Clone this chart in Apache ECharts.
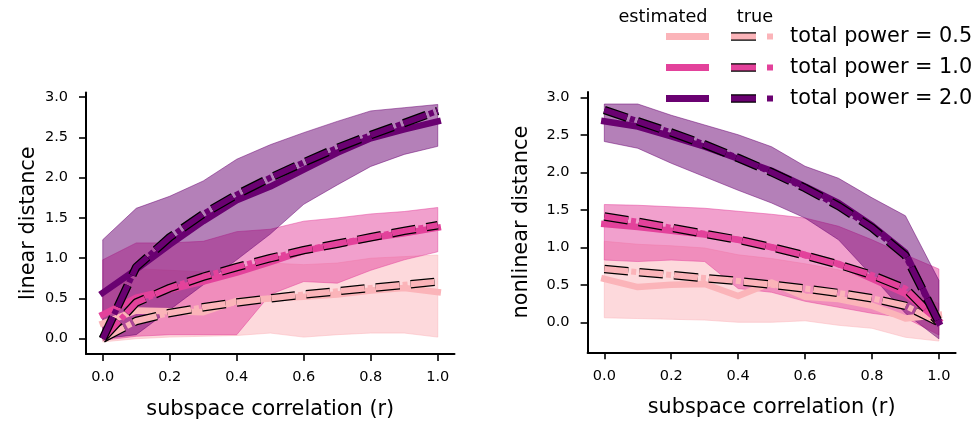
<!DOCTYPE html>
<html>
<head>
<meta charset="utf-8">
<script src="https://cdn.jsdelivr.net/npm/echarts@6/dist/echarts.min.js"></script>
<style>
  html, body { margin: 0; padding: 0; background: #fff; }
  #chart { width: 979px; height: 425px; }
</style>
</head>
<body>
<div id="chart"></div>
<script>
// subspace correlation on x, distances
const corr = [0.0, 0.1, 0.2, 0.3, 0.4, 0.5, 0.6, 0.7, 0.8, 0.9, 1.0];
const xTicks = [0, 0.2, 0.4, 0.6, 0.8, 1.0];
const yTicks = [0, 0.5, 1.0, 1.5, 2.0, 2.5, 3.0];
const powerLabels = ['total power = 0.5', 'total power = 1.0', 'total power = 2.0'];
const colors = ['#fbb4b9', '#e3429b', '#6a0171'];

// left panel: linear distance
const linEst05 = [0.19, 0.35, 0.34, 0.33, 0.47, 0.50, 0.52, 0.55, 0.60, 0.63, 0.58];
const linEst10 = [0.30, 0.51, 0.61, 0.71, 0.82, 0.95, 1.09, 1.17, 1.25, 1.31, 1.38];
const linEst20 = [0.57, 0.86, 1.17, 1.46, 1.72, 1.89, 2.10, 2.31, 2.49, 2.60, 2.70];
const linTrue05 = [0.0, 0.22, 0.32, 0.39, 0.45, 0.50, 0.55, 0.59, 0.63, 0.67, 0.71];
const linTrue10 = [0.0, 0.45, 0.63, 0.77, 0.89, 1.00, 1.10, 1.18, 1.26, 1.34, 1.41];
const linTrue20 = [0.0, 0.89, 1.26, 1.55, 1.79, 2.00, 2.19, 2.37, 2.53, 2.68, 2.83];
const linLo05 = [-0.04, 0.0, 0.02, 0.03, 0.04, 0.07, 0.02, 0.05, 0.07, 0.07, 0.02];
const linHi05 = [0.60, 0.87, 0.85, 0.83, 0.88, 0.94, 0.92, 0.94, 1.00, 1.02, 1.04];
const linLo10 = [-0.02, 0.03, 0.05, 0.05, 0.05, 0.55, 0.71, 0.69, 0.85, 0.98, 1.08];
const linHi10 = [0.98, 1.19, 1.19, 1.21, 1.33, 1.36, 1.46, 1.50, 1.55, 1.58, 1.63];
const linLo20 = [0.0, 0.05, 0.36, 0.67, 0.98, 1.30, 1.67, 1.91, 2.14, 2.29, 2.39];
const linHi20 = [1.23, 1.62, 1.77, 1.96, 2.23, 2.41, 2.56, 2.70, 2.83, 2.87, 2.91];

// right panel: nonlinear distance
const nonEst05 = [0.58, 0.47, 0.50, 0.51, 0.35, 0.53, 0.34, 0.31, 0.22, 0.05, 0.10];
const nonEst10 = [1.31, 1.27, 1.22, 1.17, 1.10, 1.00, 0.90, 0.78, 0.58, 0.38, 0.02];
const nonEst20 = [2.68, 2.61, 2.48, 2.34, 2.18, 2.02, 1.81, 1.59, 1.29, 0.93, 0.0];
const nonTrue05 = [0.71, 0.67, 0.63, 0.59, 0.55, 0.50, 0.45, 0.39, 0.32, 0.22, 0.0];
const nonTrue10 = [1.41, 1.34, 1.26, 1.18, 1.10, 1.00, 0.89, 0.77, 0.63, 0.45, 0.0];
const nonTrue20 = [2.83, 2.68, 2.53, 2.37, 2.19, 2.00, 1.79, 1.55, 1.26, 0.89, 0.0];
const nonLo05 = [0.06, 0.05, 0.04, 0.03, 0.0, 0.0, 0.02, -0.04, -0.08, -0.20, -0.25];
const nonHi05 = [1.08, 1.04, 1.02, 0.99, 0.90, 0.85, 0.78, 0.70, 0.55, 0.40, 0.25];
const nonLo10 = [0.83, 0.81, 0.83, 0.81, 0.45, 0.40, 0.28, 0.20, 0.12, 0.06, -0.17];
const nonHi10 = [1.57, 1.56, 1.54, 1.52, 1.48, 1.44, 1.39, 1.28, 1.10, 0.90, 0.71];
const nonLo20 = [2.41, 2.32, 2.12, 1.94, 1.76, 1.59, 1.39, 1.10, 0.62, 0.12, -0.22];
const nonHi20 = [2.91, 2.91, 2.76, 2.63, 2.50, 2.34, 2.08, 1.92, 1.66, 1.42, 0.56];

const FONT = 'DejaVu Sans';

function pairs(ys) {
  return corr.map((x, i) => [x, ys[i]]);
}

// shaded spread, drawn as one polygon through the axis scales
function band(g, lo, hi, color) {
  return {
    type: 'custom', xAxisIndex: g, yAxisIndex: g, silent: true, z: 1,
    data: corr.map((x, i) => [x, lo[i], hi[i]]),
    encode: { x: 0, y: [1, 2] },
    renderItem: function (params, api) {
      if (params.dataIndex !== 0) return null;
      var pts = [];
      for (var i = 0; i < corr.length; i++) pts.push(api.coord([corr[i], hi[i]]));
      for (var j = corr.length - 1; j >= 0; j--) pts.push(api.coord([corr[j], lo[j]]));
      return {
        type: 'polygon',
        shape: { points: pts },
        style: { fill: color, stroke: color, lineWidth: 1, opacity: 0.5 }
      };
    }
  };
}

function estLine(g, ys, color) {
  return {
    type: 'line', xAxisIndex: g, yAxisIndex: g, silent: true, z: 3,
    data: pairs(ys), symbol: 'none',
    lineStyle: { color: color, width: 6.5, cap: 'square', join: 'round' }
  };
}

// true value: coloured dashes with a black edge
function trueLine(g, ys, color) {
  return [{
    type: 'line', xAxisIndex: g, yAxisIndex: g, silent: true, z: 3,
    data: pairs(ys), symbol: 'none',
    lineStyle: { color: '#000', width: 8.5, type: [24, 11] }
  }, {
    type: 'line', xAxisIndex: g, yAxisIndex: g, silent: true, z: 3,
    data: pairs(ys), symbol: 'none',
    lineStyle: { color: color, width: 6, type: [24, 3, 5, 3] }
  }];
}

function panel(g, est, tru, lo, hi) {
  var s = [];
  for (var k = 0; k < 3; k++) s.push(band(g, lo[k], hi[k], colors[k]));
  for (var k = 0; k < 3; k++) {
    s.push(estLine(g, est[k], colors[k]));
    s = s.concat(trueLine(g, tru[k], colors[k]));
  }
  return s;
}

function xAx(g) {
  return {
    type: 'value', gridIndex: g, min: -0.05, max: 1.05,
    name: 'subspace correlation (r)', nameLocation: 'middle', nameGap: 45,
    nameTextStyle: { fontSize: 20.8, color: '#000', fontFamily: FONT },
    axisLine: { onZero: false, lineStyle: { color: '#000', width: 2 } },
    axisTick: { show: true, length: 7, customValues: xTicks, lineStyle: { color: '#000', width: 1.6 } },
    axisLabel: { customValues: xTicks, formatter: v => v.toFixed(1), fontSize: 14.5, color: '#000', fontFamily: FONT, margin: 16 },
    splitLine: { show: false }
  };
}

function yAx(g, min, max, name, gap) {
  return {
    type: 'value', gridIndex: g, min: min, max: max,
    name: name, nameLocation: 'middle', nameGap: gap,
    nameTextStyle: { fontSize: 20.8, color: '#000', fontFamily: FONT },
    axisLine: { show: true, onZero: false, lineStyle: { color: '#000', width: 2 } },
    axisTick: { show: true, length: 7, customValues: yTicks, lineStyle: { color: '#000', width: 1.6 } },
    axisLabel: { customValues: yTicks, formatter: v => v.toFixed(1), fontSize: 14.5, color: '#000', fontFamily: FONT, margin: 18 },
    splitLine: { show: false }
  };
}

// legend drawn by hand (two handle columns like the original)
var rows = [36.5, 67.5, 98.5];
var legend = [
  { type: 'text', x: 663, y: 17, style: { text: 'estimated', font: '17.7px "DejaVu Sans"', fill: '#000', align: 'center', verticalAlign: 'middle', textAlign: 'center', textVerticalAlign: 'middle' } },
  { type: 'text', x: 755, y: 17, style: { text: 'true', font: '17.7px "DejaVu Sans"', fill: '#000', align: 'center', verticalAlign: 'middle', textAlign: 'center', textVerticalAlign: 'middle' } }
];
rows.forEach(function (y, k) {
  legend.push({ type: 'rect', shape: { x: 666, y: y - 3.5, width: 43, height: 7 }, style: { fill: colors[k] } });
  legend.push({ type: 'rect', shape: { x: 731, y: y - 4.25, width: 25, height: 8.5 }, style: { fill: '#000' } });
  legend.push({ type: 'rect', shape: { x: 731, y: y - 3, width: 25, height: 6 }, style: { fill: colors[k] } });
  legend.push({ type: 'rect', shape: { x: 767, y: y - 3, width: 6, height: 6 }, style: { fill: colors[k] } });
  legend.push({ type: 'text', x: 790, y: y, style: { text: powerLabels[k], font: '20.8px "DejaVu Sans"', fill: '#000', align: 'left', verticalAlign: 'middle', textAlign: 'left', textVerticalAlign: 'middle' } });
});

var chart = echarts.init(document.getElementById('chart'), null, { renderer: 'canvas' });
chart.setOption({
  animation: false,
  backgroundColor: '#ffffff',
  textStyle: { fontFamily: FONT },
  grid: [
    { left: 86, top: 92.4, width: 368.5, height: 261.6 },
    { left: 587.6, top: 92, width: 368, height: 260.3 }
  ],
  xAxis: [xAx(0), xAx(1)],
  yAxis: [
    yAx(0, -0.19, 3.06, 'linear distance', 47),
    yAx(1, -0.40, 3.07, 'nonlinear distance', 55)
  ],
  series: panel(0, [linEst05, linEst10, linEst20], [linTrue05, linTrue10, linTrue20],
                   [linLo05, linLo10, linLo20], [linHi05, linHi10, linHi20])
    .concat(panel(1, [nonEst05, nonEst10, nonEst20], [nonTrue05, nonTrue10, nonTrue20],
                     [nonLo05, nonLo10, nonLo20], [nonHi05, nonHi10, nonHi20])),
  graphic: legend
});
</script>
</body>
</html>
